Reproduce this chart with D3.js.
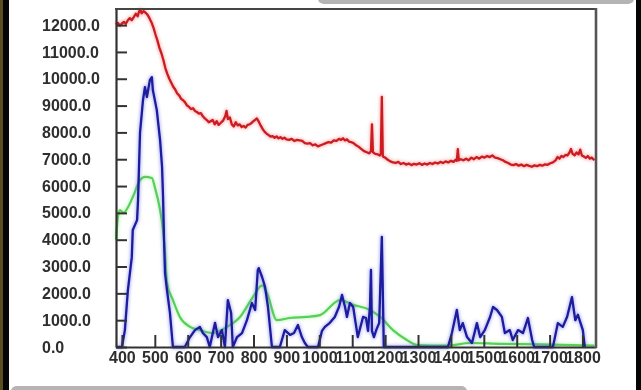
<!DOCTYPE html>
<html>
<head>
<meta charset="utf-8">
<script src="https://cdn.jsdelivr.net/npm/d3@7"></script>
<style>
  html, body { margin: 0; padding: 0; background: #ffffff; }
  svg { display: block; }
  .tick text { font-family: "Liberation Sans", Arial, sans-serif; font-weight: bold; fill: #2e2e2e; }
</style>
</head>
<body>
<svg id="chart" width="641" height="390"></svg>
<script>
// Spectral intensity traces, wavelength (nm) vs counts
const xTicks = [400, 500, 600, 700, 800, 900, 1000, 1100, 1200, 1300, 1400, 1500, 1600, 1700, 1800];
const yTicks = [0, 1000, 2000, 3000, 4000, 5000, 6000, 7000, 8000, 9000, 10000, 11000, 12000];

const redSeries = [
  [382,12020],[388,12080],[394,11980],[400,12060],[406,12120],[412,12050],[418,12180],[424,12260],
  [430,12180],[436,12300],[442,12420],[448,12330],[452,12500],[456,12580],[460,12440],[466,12520],
  [472,12460],[478,12380],[484,12250],[490,12100],[496,11900],[502,11650],[508,11420],[514,11150],
  [520,10950],[526,10700],[532,10400],[538,10180],[544,10000],[550,9850],[556,9700],[562,9600],
  [568,9450],[574,9380],[580,9250],[586,9200],[592,9120],[598,9000],[604,8950],[610,8870],
  [616,8900],[622,8800],[628,8760],[634,8700],[640,8720],[646,8600],[652,8520],[658,8460],
  [664,8380],[670,8420],[676,8460],[682,8300],[688,8420],[694,8280],[700,8350],[708,8450],
  [714,8600],[718,8800],[722,8500],[728,8560],[734,8300],[740,8220],[746,8380],[752,8260],
  [758,8300],[764,8200],[770,8240],[776,8180],[782,8280],[788,8300],[794,8350],[798,8400],
  [804,8460],[810,8520],[816,8400],[822,8250],[828,8120],[834,8020],[840,7950],[846,7900],
  [852,7840],[858,7860],[864,7800],[870,7850],[876,7780],[882,7820],[888,7760],[894,7800],
  [900,7740],[908,7720],[916,7760],[924,7680],[932,7720],[940,7700],[948,7680],[956,7600],
  [964,7580],[972,7600],[980,7520],[988,7550],[996,7480],[1004,7520],[1012,7560],[1020,7600],
  [1028,7640],[1036,7620],[1044,7700],[1052,7680],[1060,7760],[1066,7720],[1072,7780],[1078,7700],
  [1084,7740],[1090,7660],[1096,7640],[1104,7600],[1112,7520],[1120,7460],[1128,7380],[1136,7300],
  [1144,7260],[1152,7220],[1157,7300],[1160,8300],[1163,7260],[1170,7200],[1178,7180],[1184,7140],
  [1187,7200],[1190,9320],[1193,7100],[1200,7060],[1208,6980],[1216,6920],[1224,6880],[1232,6860],
  [1240,6900],[1248,6820],[1256,6860],[1264,6800],[1272,6840],[1280,6780],[1288,6830],[1296,6800],
  [1304,6850],[1312,6790],[1320,6840],[1328,6800],[1336,6860],[1344,6820],[1352,6880],[1360,6840],
  [1368,6900],[1376,6860],[1384,6920],[1392,6880],[1400,6940],[1408,6900],[1414,6980],[1418,6940],
  [1421,7380],[1424,6960],[1430,7000],[1438,6960],[1446,7020],[1454,6960],[1462,7060],[1470,7000],
  [1478,7080],[1486,7020],[1494,7100],[1502,7060],[1510,7120],[1518,7080],[1526,7140],[1534,7060],
  [1542,7040],[1550,7000],[1558,6960],[1566,6900],[1574,6860],[1582,6800],[1590,6780],[1598,6820],
  [1606,6760],[1614,6800],[1622,6740],[1630,6790],[1638,6750],[1646,6720],[1654,6770],[1662,6740],
  [1670,6790],[1678,6760],[1686,6810],[1694,6790],[1702,6850],[1710,6880],[1718,6960],[1724,7080],
  [1730,7020],[1736,7120],[1742,7080],[1748,7160],[1754,7140],[1760,7240],[1765,7380],[1770,7200],
  [1776,7150],[1782,7250],[1788,7180],[1793,7360],[1798,7140],[1804,7100],[1810,7050],[1816,7120],
  [1822,7020],[1828,7060],[1836,6960]
];

const blueSeries = [
  [382,0],[400,0],[409,630],[418,2100],[430,3350],[433,4360],[446,4730],[449,5480],
  [455,7980],[464,9200],[470,9690],[476,9320],[485,9950],[491,10060],[494,9580],[506,8830],
  [516,7715],[522,6710],[525,5590],[528,4000],[531,2760],[537,2120],[546,1270],[555,0],
  [591,0],[607,370],[622,630],[637,750],[646,520],[658,370],[667,0],[683,900],
  [692,370],[704,630],[713,0],[722,1750],[732,1270],[737,0],[750,370],[765,520],
  [780,1000],[795,1640],[805,1380],[813,2870],[816,2940],[826,2610],[835,2240],[844,1490],
  [856,0],[880,0],[895,630],[911,450],[923,520],[935,820],[947,370],[956,150],
  [965,0],[996,0],[1008,600],[1017,750],[1032,900],[1047,1120],[1060,1500],[1069,1940],
  [1078,1500],[1084,1120],[1093,1640],[1103,1490],[1109,1000],[1117,370],[1133,1120],[1142,1080],
  [1148,600],[1154,1500],[1157,2870],[1160,600],[1166,370],[1173,630],[1182,900],[1190,4100],
  [1196,0],[1391,0],[1403,520],[1418,1380],[1427,630],[1436,890],[1449,370],[1464,150],
  [1479,890],[1489,370],[1503,630],[1519,1120],[1528,1490],[1540,1380],[1555,1120],[1564,520],
  [1579,630],[1588,260],[1604,630],[1619,520],[1634,1080],[1647,260],[1653,0],[1710,0],
  [1725,890],[1740,750],[1753,1120],[1768,1860],[1778,1000],[1786,1200],[1801,630],[1807,0]
];

const greenSeries = [
  [382,4000],[388,4850],[394,5100],[405,5000],[418,5200],[433,5590],[455,6220],[470,6340],
  [491,6300],[500,5960],[516,5100],[525,4360],[531,3500],[537,2390],[555,1750],[576,1120],
  [607,750],[637,630],[677,520],[719,750],[759,1120],[798,1860],[826,2300],[841,2010],
  [871,1000],[911,1080],[962,1120],[1002,1190],[1063,1750],[1103,1570],[1154,1380],[1185,1120],
  [1224,630],[1266,260],[1297,75],[1388,50],[1458,150],[1549,120],[1671,100],[1836,50]
];

const svg = d3.select("#chart");
const W = 641, H = 390;

// surrounding frame of the panel
svg.append("rect").attr("x", 0).attr("y", 0).attr("width", W).attr("height", H).attr("fill", "#ffffff");
svg.append("rect").attr("x", 0).attr("y", 0).attr("width", 9).attr("height", H).attr("fill", "#050505");
svg.append("rect").attr("x", 0).attr("y", 0).attr("width", 3).attr("height", H).attr("fill", "#5e4d22");
svg.append("rect").attr("x", 636).attr("y", 0).attr("width", 5).attr("height", H).attr("fill", "#050505");
svg.append("rect").attr("x", 318).attr("y", -6).attr("width", 316).attr("height", 10).attr("rx", 6).attr("fill", "#b4b4b4");
svg.append("rect").attr("x", 11).attr("y", 386).attr("width", 456).attr("height", 10).attr("rx", 6).attr("fill", "#b4b4b4");

const defs = svg.append("defs");
defs.append("filter").attr("id", "soft")
  .append("feGaussianBlur").attr("stdDeviation", 0.6);
defs.append("filter").attr("id", "halo")
  .append("feGaussianBlur").attr("stdDeviation", 1.6);

const x = d3.scaleLinear().domain([382, 1841]).range([116, 596]);
const y = d3.scaleLinear().domain([0, 12600]).range([347, 9]);

const g = svg.append("g").attr("filter", "url(#soft)");

const line = d3.line().x(d => x(d[0])).y(d => y(d[1]));
const smoothLine = d3.line().x(d => x(d[0])).y(d => y(d[1])).curve(d3.curveMonotoneX);

const traces = [
  { data: greenSeries, gen: smoothLine, color: "#58d058", glow: "#a4f0a4", w: 2.2 },
  { data: blueSeries,  gen: line,       color: "#1a1a9e", glow: "#7070e8", w: 2.3 },
  { data: redSeries,   gen: line,       color: "#cc1c22", glow: "#f07a7a", w: 2.3 }
];

traces.forEach(t => {
  g.append("path").datum(t.data).attr("d", t.gen)
    .attr("fill", "none").attr("stroke", t.glow).attr("stroke-width", 4.5)
    .attr("stroke-opacity", 0.45).attr("stroke-linejoin", "round").attr("filter", "url(#halo)");
  g.append("path").datum(t.data).attr("d", t.gen)
    .attr("fill", "none").attr("stroke", t.color).attr("stroke-width", t.w)
    .attr("stroke-linejoin", "round");
});

// axes with inward ticks
const yAxis = d3.axisLeft(y).tickValues(yTicks).tickFormat(d3.format(".1f"))
  .tickSizeInner(-11).tickSizeOuter(0);
const gy = g.append("g").attr("transform", "translate(116,0)").call(yAxis);
gy.selectAll(".tick text").attr("x", -74).attr("text-anchor", "start").style("font-size", "16px");

const xAxis = d3.axisBottom(x).tickValues(xTicks).tickFormat(d3.format("d"))
  .tickSizeInner(-12).tickSizeOuter(0).tickPadding(5);
const gx = g.append("g").attr("transform", "translate(0,347)").call(xAxis);
gx.selectAll(".tick text").style("font-size", "16px");

[gx, gy].forEach(a => {
  a.select(".domain").attr("stroke", "#333").attr("stroke-width", 2.2);
  a.selectAll(".tick line").attr("stroke", "#333").attr("stroke-width", 2);
});

// top and right borders of the plot box
g.append("line").attr("x1", 115).attr("x2", 597).attr("y1", 9).attr("y2", 9)
  .attr("stroke", "#444").attr("stroke-width", 2.2);
g.append("line").attr("x1", 596).attr("x2", 596).attr("y1", 8).attr("y2", 348)
  .attr("stroke", "#555").attr("stroke-width", 2.6);
</script>
</body>
</html>
